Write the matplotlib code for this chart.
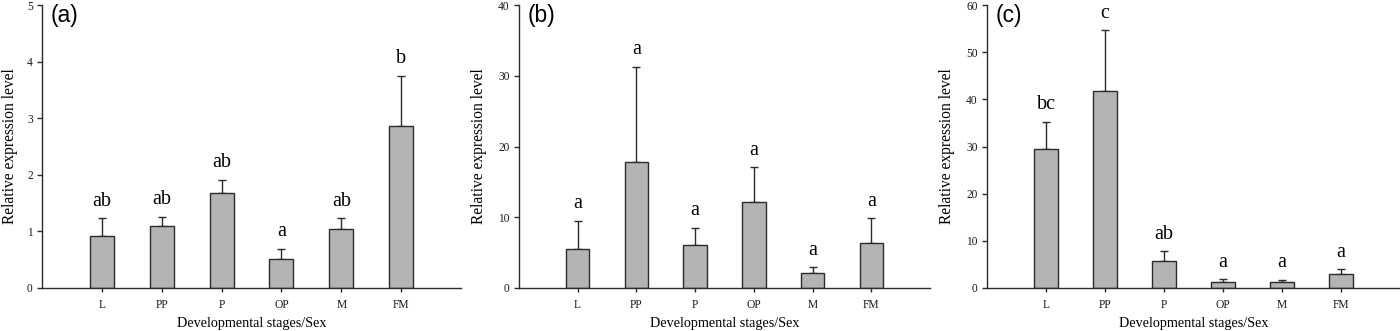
import matplotlib
matplotlib.use("Agg")
import matplotlib.pyplot as plt
import numpy as np

categories = ["L", "PP", "P", "OP", "M", "FM"]

means_a = [0.92, 1.09, 1.67, 0.52, 1.05, 2.87]
errs_a = [0.31, 0.17, 0.24, 0.17, 0.18, 0.88]
letters_a = ["ab", "ab", "ab", "a", "ab", "b"]

means_b = [5.47, 17.8, 6.03, 12.16, 2.17, 6.36]
errs_b = [4.05, 13.5, 2.5, 4.9, 0.75, 3.49]
letters_b = ["a", "a", "a", "a", "a", "a"]

means_c = [29.54, 41.7, 5.65, 1.34, 1.34, 2.97]
errs_c = [5.76, 12.9, 2.12, 0.5, 0.43, 0.99]
letters_c = ["bc", "c", "ab", "a", "a", "a"]

panel_labels = ["(a)", "(b)", "(c)"]
ymaxs = [5, 40, 60]
ysteps = [1, 10, 10]
ylabel_text = "Relative expression level"
xlabel_text = "Developmental stages/Sex"

serif = ["Liberation Serif", "DejaVu Serif"]
sans = ["Liberation Sans", "DejaVu Sans"]

W, H = 1400.0, 331.0
fig = plt.figure(figsize=(W / 100, H / 100), dpi=100)

# axes pixel extents (left, right) and y-label centre x
boxes = [(42, 461, 10), (519, 930, 479), (987, 1400, 947)]
top_px, bot_px = 5, 288

data = [(means_a, errs_a, letters_a), (means_b, errs_b, letters_b), (means_c, errs_c, letters_c)]
edge = "#2b2b2b"

for i, (l, r, ylx) in enumerate(boxes):
    ax = fig.add_axes([l / W, 1 - bot_px / H, (r - l) / W, (bot_px - top_px) / H])
    means, errs, letters = data[i]
    x = np.arange(len(categories))
    ax.bar(x, means, width=0.4, color="#b4b4b4", edgecolor=edge, linewidth=1.0, zorder=2)
    ax.errorbar(x, means, yerr=[np.zeros(len(means)), errs], fmt="none",
                ecolor=edge, elinewidth=1.0, capsize=3.2, capthick=1.0, zorder=1)
    for xi, m, e, t in zip(x, means, errs, letters):
        ax.annotate(t, (xi, m + e), xytext=(0, 9), textcoords="offset points",
                    ha="center", va="baseline", fontsize=14.5, family=serif)
    ax.set_xlim(-1, 6)
    ax.set_ylim(0, ymaxs[i])
    ax.set_yticks(np.arange(0, ymaxs[i] + 0.001, ysteps[i]))
    ax.set_xticks(x)
    ax.set_xticklabels(categories)
    for lab in ax.get_xticklabels() + ax.get_yticklabels():
        lab.set_family(serif)
        lab.set_fontsize(8.3)
    ax.tick_params(axis="y", direction="out", length=3.6, width=1, colors=edge,
                   labelcolor="#1a1a1a", pad=3.0)
    ax.tick_params(axis="x", direction="out", length=3, width=1, colors=edge,
                   labelcolor="#1a1a1a", pad=5)
    ax.spines["top"].set_visible(False)
    ax.spines["right"].set_visible(False)
    for s in ("left", "bottom"):
        ax.spines[s].set_color(edge)
        ax.spines[s].set_linewidth(1.0)
    fig.text(ylx / W, 1 - 146.5 / H, ylabel_text, rotation=90, ha="center", va="center",
             family=serif, fontsize=11.2)
    fig.text((l + r) / 2 / W, 1 - 323 / H, xlabel_text, ha="center", va="center",
             family=serif, fontsize=10.2)
    fig.text((l + 9) / W, 1 - 4 / H, panel_labels[i], ha="left", va="top",
             family=sans, fontsize=16.5)

fig.savefig("out.png", dpi=100)
